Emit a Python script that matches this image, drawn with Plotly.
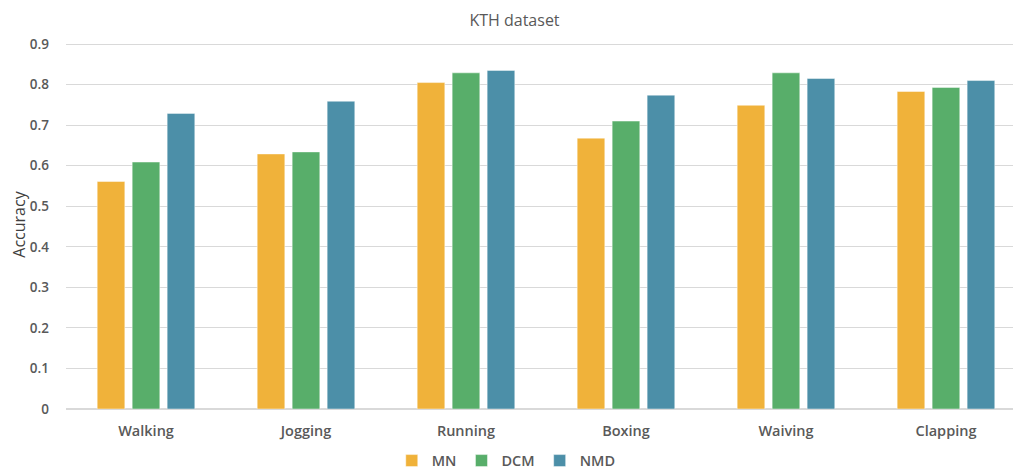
import plotly.graph_objects as go

categories = ["Walking", "Jogging", "Running", "Boxing", "Waiving", "Clapping"]
mn = [0.561, 0.629, 0.805, 0.668, 0.749, 0.783]
dcm = [0.609, 0.634, 0.829, 0.710, 0.829, 0.793]
nmd = [0.729, 0.759, 0.835, 0.774, 0.815, 0.810]
series_names = ["MN", "DCM", "NMD"]
colors = ["#F0B23A", "#58AE6A", "#4C8FA8"]
yticks = [0, 0.1, 0.2, 0.3, 0.4, 0.5, 0.6, 0.7, 0.8, 0.9]
ytick_text = ["0", "0.1", "0.2", "0.3", "0.4", "0.5", "0.6", "0.7", "0.8", "0.9"]

FONT = "Open Sans"
GREY = "#595959"

fig = go.Figure()
for name, vals, col in zip(series_names, [mn, dcm, nmd], colors):
    fig.add_trace(go.Bar(
        x=categories, y=vals, name=name,
        marker=dict(color=col, line=dict(color="rgba(255,255,255,0.45)", width=1)),
    ))

fig.update_layout(
    width=1013, height=465,
    margin=dict(l=58, r=0, t=32, b=64, autoexpand=False),
    paper_bgcolor="white", plot_bgcolor="white",
    barmode="group", bargap=0.344, bargroupgap=0.21,
    title=dict(text="KTH dataset", x=0.5, xanchor="center", y=0.986, yanchor="top",
               automargin=False,
               font=dict(family=FONT, size=16, color=GREY)),
    font=dict(family=FONT, color=GREY),
    xaxis=dict(range=[-0.5, 5.469], showgrid=False, showline=False, ticks="",
               automargin=False, ticklabelstandoff=11,
               tickfont=dict(family=FONT, size=14.5, color=GREY, weight=600)),
    yaxis=dict(range=[0, 0.91], tickvals=yticks, ticktext=ytick_text,
               showgrid=True, gridcolor="#D9D9D9", gridwidth=1,
               zeroline=True, zerolinecolor="#D9D9D9", zerolinewidth=1.5,
               showline=False, ticks="", ticklabelstandoff=16, automargin=False,
               tickfont=dict(family=FONT, size=13.5, color=GREY, weight=600),
               title=dict(text="Accuracy", standoff=0,
                          font=dict(family=FONT, size=16, color="#404040"))),
    legend=dict(orientation="h", x=0.461, xanchor="center", y=-0.14, yanchor="middle",
                font=dict(family=FONT, size=14.5, color=GREY, weight=600),
                itemwidth=30, traceorder="normal"),
)

fig.write_html("out.html")
